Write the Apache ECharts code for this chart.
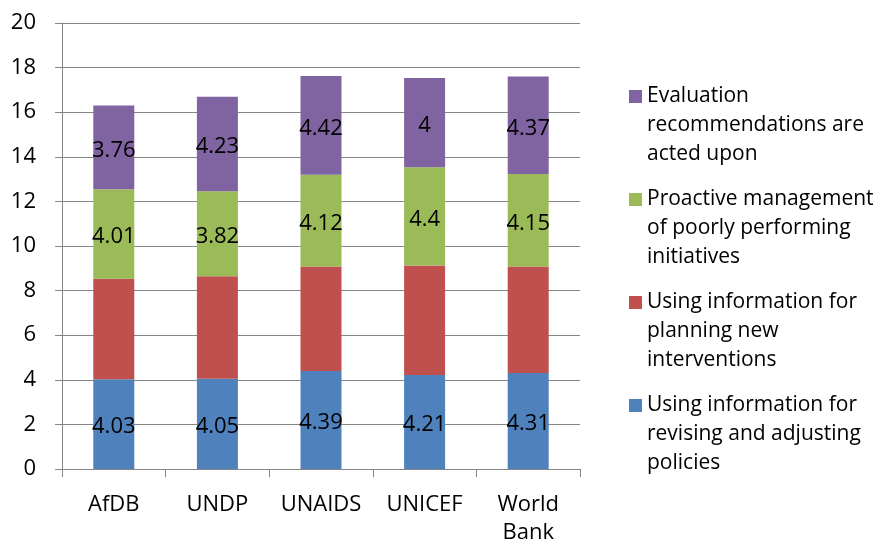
<!DOCTYPE html>
<html>
<head>
<meta charset="utf-8">
<script src="https://cdn.jsdelivr.net/npm/echarts@6/dist/echarts.min.js"></script>
<style>html,body{margin:0;padding:0;background:#fff}#c{width:876px;height:544px}</style>
</head>
<body>
<div id="c"></div>
<script>
var categories = ['AfDB', 'UNDP', 'UNAIDS', 'UNICEF', 'World\nBank'];
var seriesNames = [
  'Using information for\nrevising and adjusting\npolicies',
  'Using information for\nplanning new\ninterventions',
  'Proactive management\nof poorly performing\ninitiatives',
  'Evaluation\nrecommendations are\nacted upon'
];
var revising = [4.03, 4.05, 4.39, 4.21, 4.31];
var planning = [4.50, 4.59, 4.69, 4.92, 4.77];
var proactive = [4.01, 3.82, 4.12, 4.4, 4.15];
var evaluation = [3.76, 4.23, 4.42, 4, 4.37];
var yTicks = [0, 2, 4, 6, 8, 10, 12, 14, 16, 18, 20];

var colors = ['#4F81BD', '#C0504D', '#9BBB59', '#8064A2'];
var values = [revising, planning, proactive, evaluation];
var showLabel = [true, false, true, true];
var FONT = 'Open Sans';

var series = values.map(function (v, i) {
  return {
    name: seriesNames[i],
    type: 'bar',
    stack: 'total',
    barWidth: 41,
    data: v,
    itemStyle: { color: colors[i] },
    label: {
      show: showLabel[i],
      position: 'inside',
      offset: [0, 3],
      color: '#000',
      fontFamily: FONT,
      fontSize: 22
    },
    emphasis: { disabled: true }
  };
});

// legend icon: 13px square aligned with the first of three text lines
var legendIcon = 'path://M0,0L0,0.01M0,8L13,8L13,21L0,21ZM13,87L13,86.99';

var chart = echarts.init(document.getElementById('c'), null, { renderer: 'canvas' });
chart.setOption({
  animation: false,
  backgroundColor: '#fff',
  grid: { left: 62, right: 296, top: 23, bottom: 75, containLabel: false, outerBoundsMode: 'none' },
  legend: {
    data: [seriesNames[3], seriesNames[2], seriesNames[1], seriesNames[0]],
    orient: 'vertical',
    left: 629,
    top: 82,
    padding: 0,
    itemGap: 16,
    icon: legendIcon,
    itemWidth: 13,
    itemHeight: 87,
    selectedMode: false,
    textStyle: {
      fontFamily: FONT,
      fontSize: 21,
      color: '#000',
      lineHeight: 29
    }
  },
  xAxis: {
    type: 'category',
    data: categories,
    axisLine: { lineStyle: { color: '#868686', width: 1 } },
    axisTick: { show: true, length: 8, lineStyle: { color: '#868686' } },
    axisLabel: { color: '#000', fontFamily: FONT, fontSize: 22, lineHeight: 28, margin: 22, interval: 0, hideOverlap: false }
  },
  yAxis: {
    type: 'value',
    min: 0,
    max: 20,
    interval: 2,
    axisLine: { show: true, lineStyle: { color: '#868686', width: 1 } },
    axisTick: { show: true, length: 7, lineStyle: { color: '#868686' } },
    splitLine: { show: true, lineStyle: { color: '#868686', width: 1 } },
    axisLabel: {
      color: '#000', fontFamily: FONT, fontSize: 22, margin: 26,
      formatter: function (v) { return yTicks.indexOf(v) >= 0 ? String(v) : ''; }
    }
  },
  series: series
});
</script>
</body>
</html>
